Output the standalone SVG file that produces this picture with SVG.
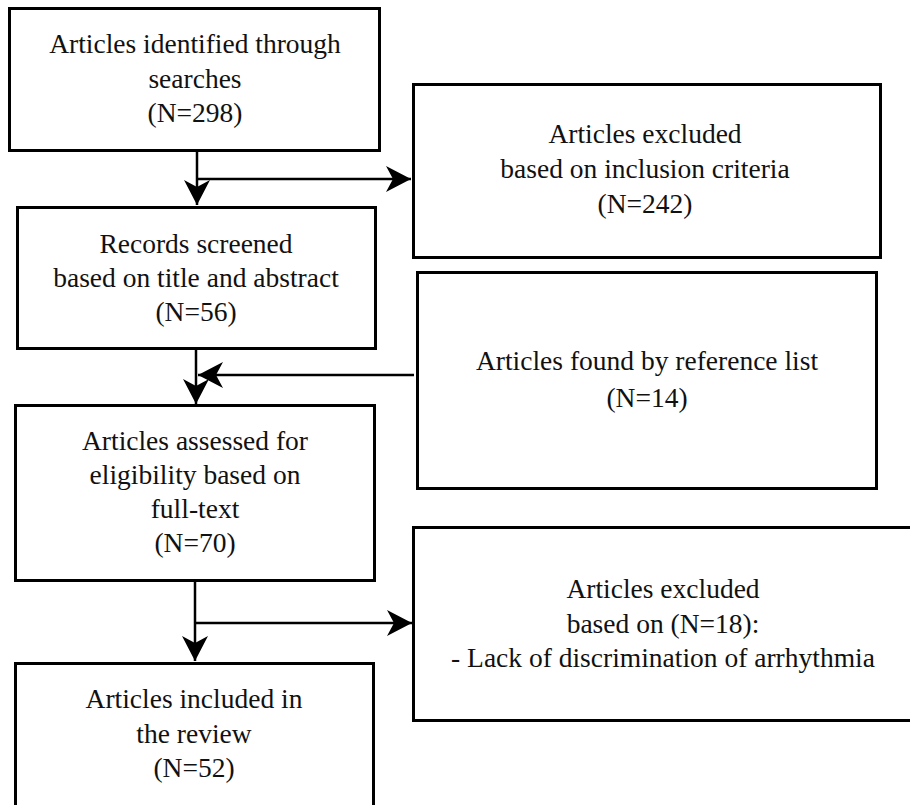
<svg xmlns="http://www.w3.org/2000/svg" width="910" height="805" viewBox="0 0 910 805">
<style>
.box{fill:#fff;stroke:#000;stroke-width:3}
.t{font-family:'Liberation Serif','Times New Roman',serif;font-size:27.5px;fill:#111;text-anchor:middle}
.c{fill:none;stroke:#000;stroke-width:2.5}
</style>
<defs>
<marker id="ah" markerUnits="userSpaceOnUse" markerWidth="28" markerHeight="28" refX="25" refY="13" orient="auto" viewBox="0 0 28 28">
<path d="M0,0 L25,13 L0,26 L7,13 Z" fill="#000"/>
</marker>
</defs>
<rect width="910" height="805" fill="#fff"/>
<g id="connectors">
<line class="c" x1="197" y1="150" x2="197" y2="205" marker-end="url(#ah)"/>
<line class="c" x1="197" y1="179" x2="411" y2="179" marker-end="url(#ah)"/>
<line class="c" x1="196" y1="348" x2="196" y2="404" marker-end="url(#ah)"/>
<line class="c" x1="414" y1="375" x2="198" y2="375" marker-end="url(#ah)"/>
<line class="c" x1="195" y1="580" x2="195" y2="661" marker-end="url(#ah)"/>
<line class="c" x1="195" y1="623" x2="412" y2="623" marker-end="url(#ah)"/>
</g>
<g id="n1">
<rect class="box" x="9.5" y="8.5" width="370" height="142"/>
<text class="t" x="195" y="53">Articles identified through</text>
<text class="t" x="195" y="88">searches</text>
<text class="t" x="195" y="122">(N=298)</text>
</g>
<g id="n2">
<rect class="box" x="413.5" y="84.5" width="467" height="173"/>
<text class="t" x="645" y="143">Articles excluded</text>
<text class="t" x="645" y="178">based on inclusion criteria</text>
<text class="t" x="645" y="213">(N=242)</text>
</g>
<g id="n3">
<rect class="box" x="17.5" y="207.5" width="358" height="141"/>
<text class="t" x="196" y="253">Records screened</text>
<text class="t" x="196" y="287">based on title and abstract</text>
<text class="t" x="196" y="321">(N=56)</text>
</g>
<g id="n4">
<rect class="box" x="417.5" y="272.5" width="459" height="216"/>
<text class="t" x="647" y="370">Articles found by reference list</text>
<text class="t" x="647" y="407">(N=14)</text>
</g>
<g id="n5">
<rect class="box" x="15.5" y="405.5" width="359" height="175"/>
<text class="t" x="195" y="450">Articles assessed for</text>
<text class="t" x="195" y="484">eligibility based on</text>
<text class="t" x="195" y="518">full-text</text>
<text class="t" x="195" y="552">(N=70)</text>
</g>
<g id="n6">
<rect class="box" x="413.5" y="527.5" width="510" height="193"/>
<text class="t" x="663" y="598">Articles excluded</text>
<text class="t" x="663" y="633">based on (N=18):</text>
<text class="t" x="663" y="667">- Lack of discrimination of arrhythmia</text>
</g>
<g id="n7">
<rect class="box" x="15.5" y="663.5" width="358" height="150"/>
<text class="t" x="194" y="708">Articles included in</text>
<text class="t" x="194" y="743">the review</text>
<text class="t" x="194" y="777">(N=52)</text>
</g>
</svg>
